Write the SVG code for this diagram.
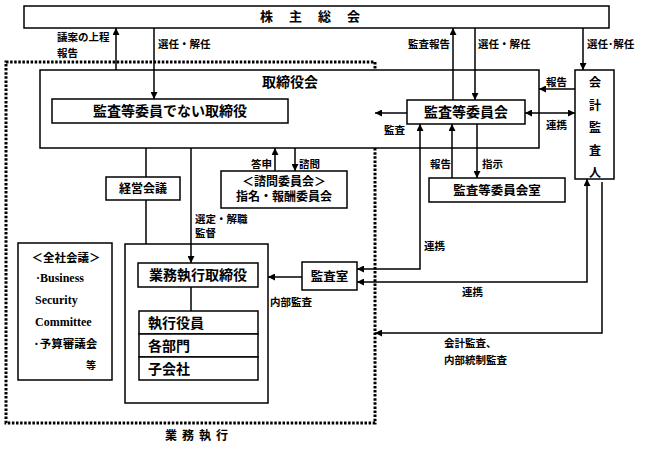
<svg xmlns="http://www.w3.org/2000/svg" width="648" height="449" viewBox="0 0 648 449">
<defs>
<marker id="ah" viewBox="0 0 10 10" refX="10" refY="5" markerWidth="7" markerHeight="7" markerUnits="userSpaceOnUse" orient="auto-start-reverse">
<path d="M0,0 L10,5 L0,10 z" fill="#000"/>
</marker>
<style>
.box{fill:#fff;stroke:#000;stroke-width:1.5}
.ln{fill:none;stroke:#000;stroke-width:1.5}
.ar{fill:none;stroke:#000;stroke-width:1.5;marker-end:url(#ah)}
.ar2{fill:none;stroke:#000;stroke-width:1.5;marker-end:url(#ah);marker-start:url(#ah)}
.dot{fill:none;stroke:#000;stroke-width:3;stroke-dasharray:2.5 1.6}
.t{font-family:"Noto Sans CJK JP","Liberation Sans",sans-serif;font-weight:700;fill:#000}
.lb{font-family:"Noto Sans CJK JP","Liberation Sans",sans-serif;font-weight:700;font-size:10.5px;fill:#000}
.s{font-family:"Liberation Serif","DejaVu Serif",serif;font-weight:700;font-size:12px;fill:#000}
</style>
</defs>
<rect width="648" height="449" fill="#fff"/>

<path class="dot" d="M6,62 H375 V423 H6 Z"/>
<text class="t" x="199" y="440" font-size="12" text-anchor="middle" letter-spacing="5">業務執行</text>

<g id="shareholders">
<rect class="box" x="24" y="6" width="585" height="22"/>
<text class="t" x="318" y="21" font-size="13" text-anchor="middle" letter-spacing="16">株主総会</text>
</g>

<g id="board">
<rect class="box" x="40" y="70" width="499" height="78"/>
<text class="t" x="290" y="87" font-size="14" text-anchor="middle">取締役会</text>
</g>

<g id="non-audit-directors">
<rect class="box" x="52" y="99" width="236" height="24"/>
<text class="t" x="170" y="116" font-size="14" text-anchor="middle">監査等委員でない取締役</text>
</g>

<g id="audit-committee">
<rect class="box" x="407" y="100" width="118" height="24"/>
<text class="t" x="466" y="117" font-size="14" text-anchor="middle">監査等委員会</text>
</g>

<g id="accounting-auditor">
<rect class="box" x="575" y="70" width="39" height="109"/>
<text class="t" x="595" y="87" font-size="12" text-anchor="middle">会</text>
<text class="t" x="595" y="110" font-size="12" text-anchor="middle">計</text>
<text class="t" x="595" y="132" font-size="12" text-anchor="middle">監</text>
<text class="t" x="595" y="155" font-size="12" text-anchor="middle">査</text>
<text class="t" x="595" y="177" font-size="12" text-anchor="middle">人</text>
</g>

<g id="audit-committee-office">
<rect class="box" x="429" y="178" width="136" height="24"/>
<text class="t" x="497" y="194.5" font-size="12.5" text-anchor="middle">監査等委員会室</text>
</g>

<g id="management-meeting">
<rect class="box" x="106" y="177" width="74" height="23"/>
<text class="t" x="143" y="193" font-size="12" text-anchor="middle">経営会議</text>
</g>

<g id="advisory-committee">
<rect class="box" x="221" y="171" width="126" height="37"/>
<text class="t" x="284" y="185.5" font-size="12" text-anchor="middle">＜諮問委員会＞</text>
<text class="t" x="284" y="201" font-size="12" text-anchor="middle">指名・報酬委員会</text>
</g>

<g id="company-meetings">
<rect class="box" x="18" y="243" width="94" height="137"/>
<text class="t" x="66" y="262" font-size="11.5" text-anchor="middle">＜全社会議＞</text>
<text class="s" x="36" y="282">·Business</text>
<text class="s" x="35" y="304">Security</text>
<text class="s" x="35" y="326">Committee</text>
<text class="t" x="33" y="348" font-size="11.5">·予算審議会</text>
<text class="t" x="86" y="369" font-size="10">等</text>
</g>

<g id="execution">
<rect class="box" x="125" y="244" width="143" height="159"/>
</g>

<g id="executive-directors">
<rect class="box" x="138" y="263" width="120" height="24"/>
<text class="t" x="198" y="280" font-size="14" text-anchor="middle">業務執行取締役</text>
</g>

<g id="officers">
<rect class="box" x="139" y="311" width="119" height="23"/>
<text class="t" x="148" y="327.5" font-size="14">執行役員</text>
</g>
<g id="divisions">
<rect class="box" x="139" y="334" width="119" height="23"/>
<text class="t" x="148" y="350.5" font-size="14">各部門</text>
</g>
<g id="subsidiaries">
<rect class="box" x="139" y="357" width="119" height="23"/>
<text class="t" x="148" y="373.5" font-size="14">子会社</text>
</g>

<g id="audit-office">
<rect class="box" x="302" y="262" width="55" height="28"/>
<text class="t" x="329.5" y="280.5" font-size="12.5" text-anchor="middle">監査室</text>
</g>

<g id="connectors">
<path class="ar" d="M116,70 V28"/>
<path class="ar" d="M154,28 V99"/>
<path class="ar" d="M453,100 V28"/>
<path class="ar" d="M475,28 V100"/>
<path class="ar" d="M583,28 V70"/>
<path class="ar" d="M575,89 H539"/>
<path class="ar2" d="M525,113 H575"/>
<path class="ar" d="M407,113 H375"/>
<path class="ar" d="M452,178 V124"/>
<path class="ar" d="M477,124 V178"/>
<path class="ar2" d="M420,124 V269 H357"/>
<path class="ar2" d="M587,179 V282 H357"/>
<path class="ar" d="M602,182 V333 H375"/>
<path class="ln" d="M146,148 V177"/>
<path class="ln" d="M146,200 V244"/>
<path class="ar" d="M191,148 V263"/>
<path class="ar" d="M275,171 V148"/>
<path class="ar" d="M295,148 V171"/>
<path class="ar" d="M302,277 H268"/>
<path class="ln" d="M191,287 V311"/>
</g>

<g id="labels">
<text class="lb" x="57" y="41">議案の上程</text>
<text class="lb" x="57" y="57">報告</text>
<text class="lb" x="158" y="48">選任・解任</text>
<text class="lb" x="450" y="48" text-anchor="end">監査報告</text>
<text class="lb" x="478" y="48">選任・解任</text>
<text class="lb" x="587" y="48">選任･解任</text>
<text class="lb" x="546" y="86">報告</text>
<text class="lb" x="546" y="129">連携</text>
<text class="lb" x="384" y="134">監査</text>
<text class="lb" x="251" y="168">答申</text>
<text class="lb" x="299" y="168">諮問</text>
<text class="lb" x="430" y="168">報告</text>
<text class="lb" x="482" y="168">指示</text>
<text class="lb" x="195" y="223">選定・解職</text>
<text class="lb" x="195" y="237">監督</text>
<text class="lb" x="424" y="250">連携</text>
<text class="lb" x="462" y="296">連携</text>
<text class="lb" x="270" y="306">内部監査</text>
<text class="lb" x="444" y="347">会計監査、</text>
<text class="lb" x="444" y="364">内部統制監査</text>
</g>
</svg>
